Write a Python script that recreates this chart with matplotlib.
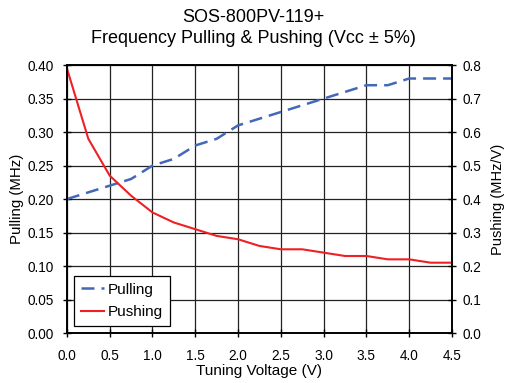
import numpy as np
import matplotlib.pyplot as plt

plt.rcParams['font.family'] = ['Liberation Sans', 'DejaVu Sans']

# Data
voltage = [0.0, 0.25, 0.5, 0.75, 1.0, 1.25, 1.5, 1.75, 2.0, 2.25, 2.5,
           2.75, 3.0, 3.25, 3.5, 3.75, 4.0, 4.25, 4.5]
pulling = [0.20, 0.21, 0.22, 0.23, 0.25, 0.26, 0.28, 0.29, 0.31, 0.32, 0.33,
           0.34, 0.35, 0.36, 0.37, 0.37, 0.38, 0.38, 0.38]
pushing = [0.79, 0.58, 0.47, 0.41, 0.36, 0.33, 0.31, 0.29, 0.28, 0.26, 0.25,
           0.25, 0.24, 0.23, 0.23, 0.22, 0.22, 0.21, 0.21]

xticks = np.arange(0, 4.51, 0.5)
yticks_left = np.arange(0, 0.401, 0.05)
yticks_right = np.arange(0, 0.801, 0.1)

fig = plt.figure(figsize=(5.07, 3.83), dpi=100)
ax = fig.add_axes([0.132, 0.1305, 0.7595, 0.6995])
ax2 = ax.twinx()

l1, = ax.plot(voltage, pulling, color='#4468b8', lw=1.8, ls=(0, (5.2, 2.8)),
              label='Pulling')
l2, = ax2.plot(voltage, pushing, color='#ee2024', lw=1.5, label='Pushing')

ax.set_xlim(0, 4.5)
ax.set_ylim(0, 0.40)
ax2.set_ylim(0, 0.8)
ax.set_xticks(xticks)
ax.set_xticklabels(['%.1f' % v for v in xticks])
ax.set_yticks(yticks_left)
ax.set_yticklabels(['%.2f' % v for v in yticks_left])
ax2.set_yticks(yticks_right)
ax2.set_yticklabels(['%.1f' % v for v in yticks_right])

ax.grid(True, color='#222222', lw=0.9)
ax.set_axisbelow(True)
for a in (ax, ax2):
    a.tick_params(direction='inout', length=6, width=1, labelsize=9.8)
    for s in a.spines.values():
        s.set_linewidth(1.2)
ax.tick_params(axis='x', pad=8.5)
ax.tick_params(axis='y', pad=6.5)
ax2.tick_params(axis='y', pad=4.5)

ax.set_xlabel('Tuning Voltage (V)', fontsize=11, labelpad=1)
ax.set_ylabel('Pulling (MHz)', fontsize=10.8, labelpad=2)
ax2.set_ylabel('Pushing (MHz/V)', fontsize=10.5, labelpad=7)
fig.text(0.5, 0.977, 'SOS-800PV-119+\nFrequency Pulling & Pushing (Vcc \u00b1 5%)',
         fontsize=13, ha='center', va='top', linespacing=1.3)

leg = ax2.legend(handles=[l1, l2], loc='lower left',
                 bbox_to_anchor=(0.018, 0.026), borderaxespad=0,
                 fontsize=11, frameon=True,
                 fancybox=False, edgecolor='black', framealpha=1,
                 handlelength=1.5, borderpad=0.45, labelspacing=0.55,
                 handletextpad=0.3)
leg.get_frame().set_linewidth(0.9)

fig.savefig('out.png', dpi=100)
